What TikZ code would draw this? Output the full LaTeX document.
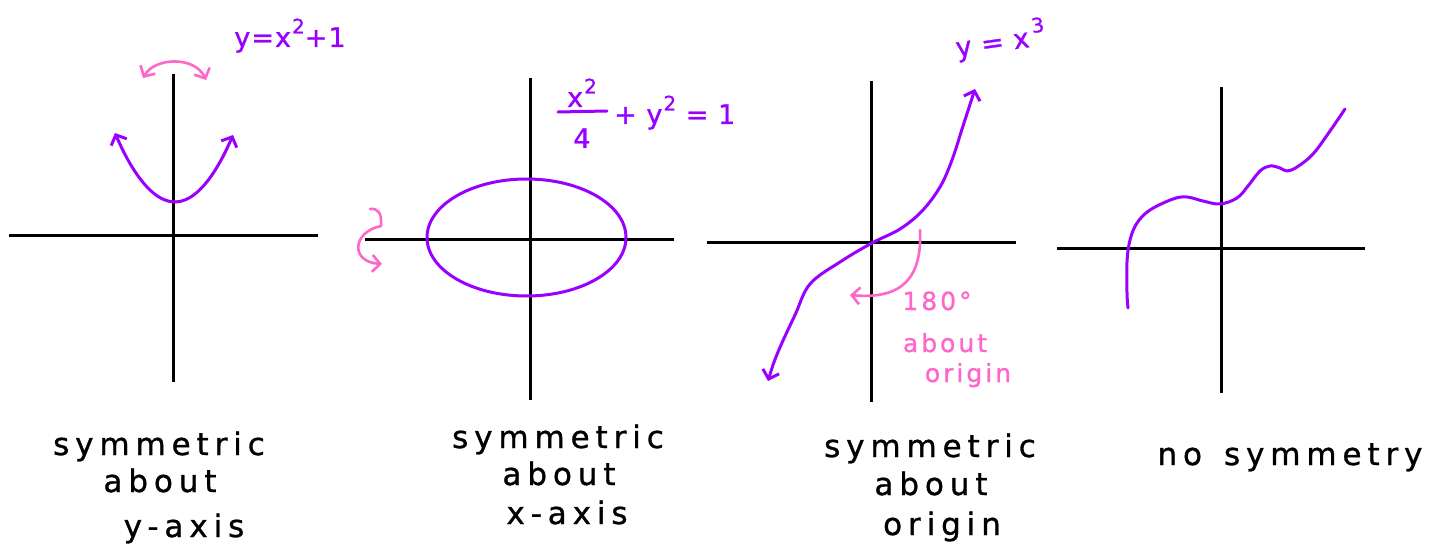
\documentclass[tikz,border=0pt]{standalone}
\usepackage{fontspec}
\setmainfont{DejaVu Sans}
\newfontfamily\handfont[LetterSpace=19,FakeBold=1]{DejaVu Sans}
\newfontfamily\rosefont[LetterSpace=12,FakeBold=1]{DejaVu Sans}
\newfontfamily\eqfont[LetterSpace=4,FakeBold=1]{DejaVu Sans}
\usetikzlibrary{arrows.meta}
\definecolor{grape}{RGB}{153,0,255}
\definecolor{rose}{RGB}{255,102,204}
\newcommand\hsup[2][1pt]{\kern#1\raisebox{0.5em}{\fontsize{20}{20}\selectfont #2}}
\tikzset{
  barb/.tip={Straight Barb[length=8pt,width=17pt]},
}
\begin{document}
\begin{tikzpicture}[x=1pt,y=-1pt,
  axisline/.style={line width=3pt,black},
  curveline/.style={line width=3pt,grape,line cap=round,line join=round},
  roseline/.style={line width=2.6pt,rose,line cap=round,line join=round},
  captxt/.style={font=\handfont\fontsize{31}{31}\selectfont,inner sep=0pt,anchor=base,text=black},
  rosetxt/.style={font=\rosefont\fontsize{25}{25}\selectfont,inner sep=0pt,anchor=base,text=rose},
  eqtxt/.style={font=\eqfont\fontsize{27}{27}\selectfont,inner sep=0pt,anchor=base,text=grape},
]
\path[fill=white,use as bounding box] (0,0) rectangle (1437,548);

% ---------- panel 1 : y = x^2 + 1 ----------
\draw[axisline] (173,74) -- (173,382);
\draw[axisline] (9,235) -- (318,235);
\draw[curveline,barb-barb] (115,133) parabola bend (175,202) (233,135);
\draw[roseline,barb-barb] (143,78) .. controls (155,57) and (195,56) .. (206,80);
\node[eqtxt] (eq1) at (290,47) {y=x\hsup{2}+1};

% ---------- panel 2 : ellipse ----------
\draw[axisline] (530,78) -- (530,400);
\draw[axisline] (365,239) -- (674,239);
\draw[curveline] (526.5,237.5) ellipse [x radius=99.5, y radius=58.5];
\draw[roseline,-barb] (370,209) .. controls (378,208) and (382,213) .. (381,226)
  .. controls (352,232) and (350,262) .. (382,264);
\node[eqtxt] (eq2num) at (582,107) {x\hsup{2}};
\draw[grape,line width=3pt,line cap=round] (558,112) -- (607,111);
\node[eqtxt] (eq2den) at (582,148) {4};
\node[eqtxt,anchor=base west] (eq2rest) at (614,124) {+ y\hsup{2} = 1};

% ---------- panel 3 : y = x^3 ----------
\draw[axisline] (871,81) -- (871,402);
\draw[axisline] (707,242) -- (1016,242);
\draw[curveline,barb-barb] plot[smooth,tension=0.6] coordinates {(768,381) (778,352) (795,315) (810,284) (840,262) (872,243) (900,229) (922,211) (940,187) (952,160) (963,126) (975,89)};
\draw[roseline,-barb] (920,230) .. controls (922,275) and (905,300) .. (850,295);
\node[eqtxt,rotate=8] (eq3) at (1002,51) {y = x\hsup[4pt]{3}};
\node[rosetxt] (r1) at (937,310) {180°};
\node[rosetxt] (r2) at (945,352) {about};
\node[rosetxt] (r3) at (968,382) {origin};

% ---------- panel 4 : no symmetry ----------
\draw[axisline] (1221,87) -- (1221,393);
\draw[axisline] (1057,248) -- (1365,248);
\draw[curveline] plot[smooth,tension=0.6] coordinates {(1128,308) (1127,293) (1127,262) (1130,240) (1137,223) (1150,210) (1173,199) (1187,197) (1203,201) (1220,204) (1237,198) (1248,186) (1260,171) (1270,166) (1280,168) (1287,171) (1297,167) (1313,154) (1330,131) (1345,109)};

% ---------- captions ----------
\node[captxt] (c1a) at (159,455) {symmetric};
\node[captxt] (c1b) at (160,492) {about};
\node[captxt] (c1c) at (184,537) {y-axis};
\node[captxt] (c2a) at (558,448) {symmetric};
\node[captxt] (c2b) at (559,485) {about};
\node[captxt] (c2c) at (567,524) {x-axis};
\node[captxt] (c3a) at (930,457) {symmetric};
\node[captxt] (c3b) at (931,495) {about};
\node[captxt] (c3c) at (942,535) {origin};
\node[captxt] (c4) at (1290,465) {no\hspace{22pt}symmetry};
\end{tikzpicture}
\end{document}
